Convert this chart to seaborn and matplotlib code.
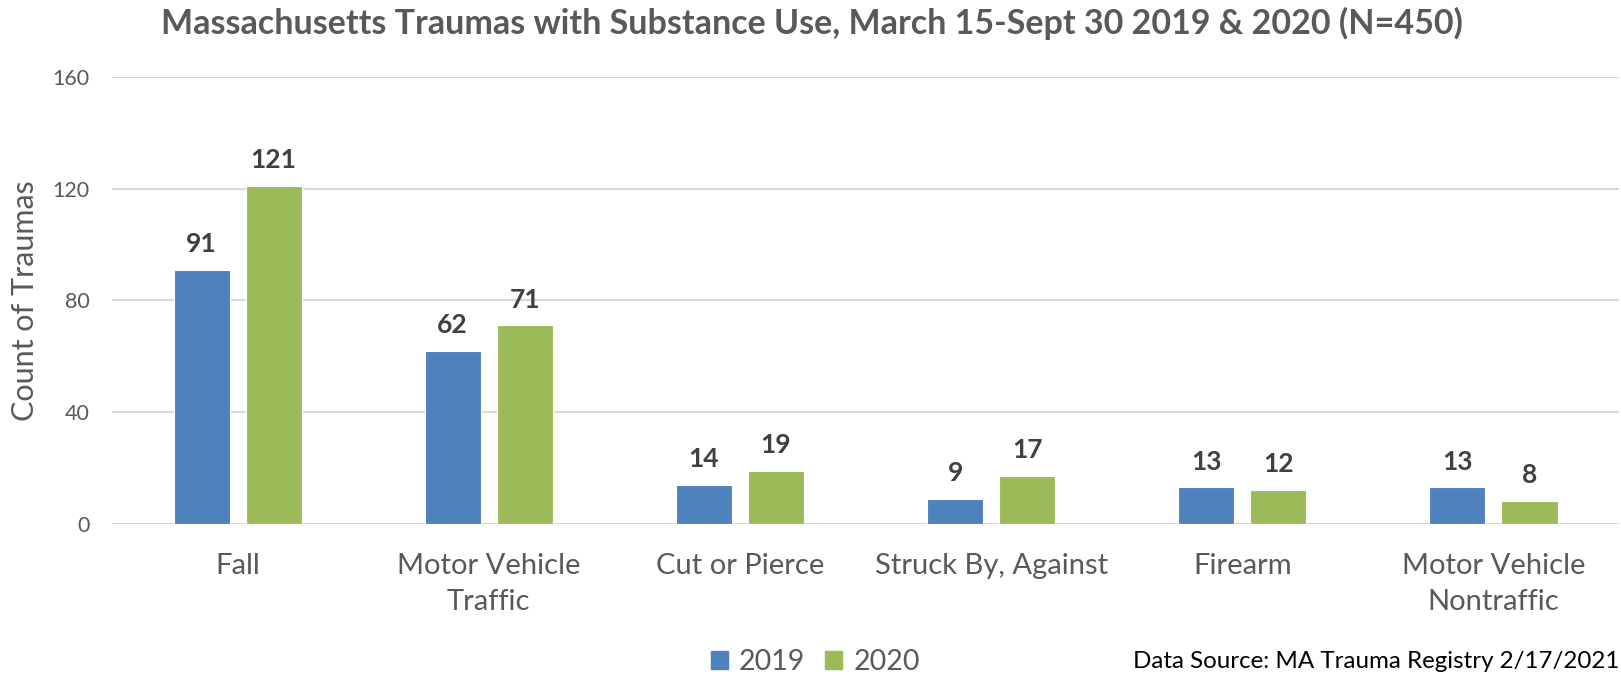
import pandas as pd
import matplotlib.pyplot as plt
import seaborn as sns

# ── Data ─────────────────────────────────────────────
causes = ['Fall', 'Motor Vehicle\nTraffic', 'Cut or Pierce', 'Struck By, Against',
          'Firearm', 'Motor Vehicle\nNontraffic']
counts_2019 = [91, 62, 14, 9, 13, 13]
counts_2020 = [121, 71, 19, 17, 12, 8]
years = ['2019', '2020']
colors = ['#4F81BD', '#9BBB59']

df = pd.DataFrame({
    'cause': causes * 2,
    'count': counts_2019 + counts_2020,
    'year': [years[0]] * len(causes) + [years[1]] * len(causes),
})

sns.set_theme(style='white')
plt.rcParams['font.family'] = ['Lato', 'DejaVu Sans']

grey = '#595959'
dark = '#404040'

fig = plt.figure(figsize=(16.21, 6.81), dpi=100)
ax = fig.add_axes([0.0691, 0.231, 0.9297, 0.656])

sns.barplot(data=df, x='cause', y='count', hue='year', palette=colors, saturation=1,
            width=0.574, gap=0.222, edgecolor='white', linewidth=0.8, ax=ax, legend=False)

for cont in ax.containers:
    ax.bar_label(cont, padding=10, fontsize=19, fontweight='bold', color=dark)

ax.set_ylim(0, 160)
ax.set_xlim(-0.5, 5.5)
ax.set_yticks([0, 40, 80, 120, 160])
ax.yaxis.grid(True, color='#D9D9D9', linewidth=1.5)
ax.set_axisbelow(True)
for s in ax.spines.values():
    s.set_visible(False)
ax.tick_params(axis='both', length=0)
ax.tick_params(axis='y', labelsize=15.5, labelcolor=grey, pad=16)
ax.tick_params(axis='x', labelsize=21, labelcolor=grey, pad=21)
for lbl in ax.get_xticklabels():
    lbl.set_linespacing(1.5)
ax.set_xlabel('')
ax.set_ylabel('Count of Traumas', fontsize=22, color=grey, labelpad=10)

fig.suptitle('Massachusetts Traumas with Substance Use, March 15-Sept 30 2019 & 2020 (N=450)',
             x=0.501, y=0.99, fontsize=24.5, fontweight='bold', color=grey)

handles = [plt.Rectangle((0, 0), 1, 1, color=c) for c in colors]
fig.legend(handles, years, loc='center', bbox_to_anchor=(0.503, 0.028), ncol=2, frameon=False,
           fontsize=20.5, labelcolor=grey, handlelength=0.6, handleheight=0.6,
           handletextpad=0.4, columnspacing=0.7)

fig.text(0.9988, 0.028, 'Data Source: MA Trauma Registry 2/17/2021', ha='right', va='center',
         fontsize=17.4, color='black')

plt.savefig('out.png', dpi=100)
